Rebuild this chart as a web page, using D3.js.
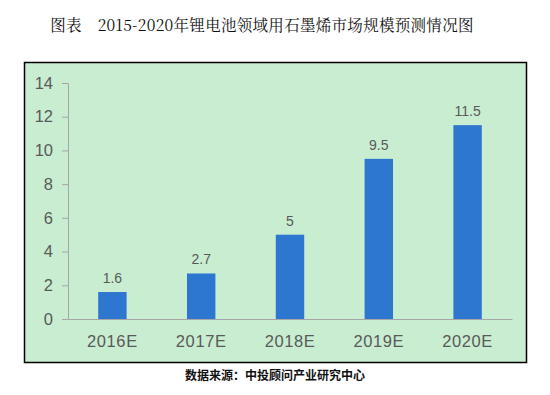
<!DOCTYPE html>
<html><head><meta charset="utf-8">
<script src="https://cdn.jsdelivr.net/npm/d3@7"></script>
<style>body{margin:0;background:#fff}</style>
</head><body>
<script>
const categories = ["2016E","2017E","2018E","2019E","2020E"];
const values = [1.6, 2.7, 5, 9.5, 11.5];
const valueLabels = ["1.6","2.7","5","9.5","11.5"];
const yTicks = [0,2,4,6,8,10,12,14];
const title = "图表　2015-2020年锂电池领域用石墨烯市场规模预测情况图";
const source = "数据来源：中投顾问产业研究中心";

const W = 550, H = 395;
const svg = d3.select("body").append("svg").attr("width", W).attr("height", H);

svg.append("rect").attr("x", 24.5).attr("y", 62.5).attr("width", 502).attr("height", 300)
  .attr("fill", "#c8edd0").attr("stroke", "#000").attr("stroke-width", 1.5);

svg.append("text").attr("x", 262).attr("y", 31).attr("text-anchor", "middle")
  .attr("font-family", "'Noto Serif CJK SC','AR PL UMing CN','Noto Sans CJK SC',serif")
  .attr("font-size", 15.5).attr("letter-spacing", 0.3).attr("fill", "#111").text(title);

const x = d3.scaleBand().domain(categories).range([68, 512]).paddingInner(0.68).paddingOuter(0.34);
const y = d3.scaleLinear().domain([0, 14]).range([319, 83]);

const yAxis = svg.append("g").attr("transform", "translate(68,0)")
  .call(d3.axisLeft(y).tickValues(yTicks).tickSize(6).tickPadding(9).tickFormat(d3.format("d")));
yAxis.selectAll("path,line").attr("stroke", "#a6a6a6");
yAxis.selectAll("text").attr("fill", "#595959").attr("font-size", 16.5)
  .attr("font-family", "'Liberation Sans',Arial,sans-serif");

const xAxis = svg.append("g").attr("transform", "translate(0,319)")
  .call(d3.axisBottom(x).tickSize(0).tickPadding(16));
xAxis.select("path").attr("stroke", "#a6a6a6");
xAxis.selectAll("text").attr("fill", "#595959").attr("font-size", 16.5)
  .attr("letter-spacing", 0.6)
  .attr("font-family", "'Liberation Sans',Arial,sans-serif");

svg.selectAll("rect.bar").data(values).enter().append("rect").attr("class", "bar")
  .attr("x", (d, i) => x(categories[i])).attr("width", x.bandwidth())
  .attr("y", d => y(d)).attr("height", d => y(0) - y(d))
  .attr("fill", "#2e77d0");

svg.selectAll("text.vl").data(values).enter().append("text").attr("class", "vl")
  .attr("x", (d, i) => x(categories[i]) + x.bandwidth() / 2)
  .attr("y", d => y(d) - 9).attr("text-anchor", "middle")
  .attr("fill", "#595959").attr("font-size", 14)
  .attr("font-family", "'Liberation Sans',Arial,sans-serif")
  .text((d, i) => valueLabels[i]);

svg.append("text").attr("x", 275).attr("y", 380).attr("text-anchor", "middle")
  .attr("font-family", "'Noto Sans CJK SC',sans-serif").attr("font-size", 12)
  .attr("font-weight", "bold").attr("fill", "#111").text(source);
</script>
</body></html>
